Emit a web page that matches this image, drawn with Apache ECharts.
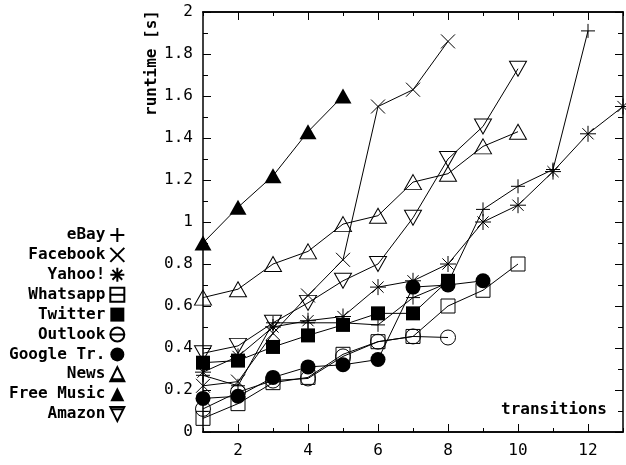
<!DOCTYPE html>
<html>
<head>
<meta charset="utf-8">
<script src="https://cdn.jsdelivr.net/npm/echarts@6/dist/echarts.min.js"></script>
<style>
  html, body { margin: 0; padding: 0; background: #fff; }
  #chart { width: 626px; height: 465px; }
</style>
</head>
<body>
<div id="chart"></div>
<script>
// runtime per number of transitions
const ebay = [0.27, 0.22, 0.52, 0.52, 0.52, 0.51, 0.64, 0.71, 1.06, 1.17, 1.25, 1.91];
const facebook = [0.22, 0.24, 0.47, 0.65, 0.82, 1.55, 1.63, 1.86];
const yahoo = [0.285, 0.36, 0.50, 0.53, 0.55, 0.69, 0.72, 0.80, 1.00, 1.08, 1.24, 1.42, 1.55];
const whatsapp = [0.065, 0.135, 0.235, 0.26, 0.37, 0.43, 0.455, 0.60, 0.675, 0.80];
const twitter = [0.33, 0.34, 0.405, 0.46, 0.51, 0.565, 0.565, 0.72];
const outlook = [0.11, 0.19, 0.245, 0.255, 0.36, 0.43, 0.455, 0.45];
const googleTr = [0.16, 0.17, 0.26, 0.31, 0.32, 0.345, 0.69, 0.70, 0.72];
const news = [0.64, 0.68, 0.80, 0.86, 0.99, 1.03, 1.19, 1.23, 1.36, 1.43];
const freeMusic = [0.90, 1.07, 1.22, 1.43, 1.60];
const amazon = [0.375, 0.41, 0.52, 0.615, 0.72, 0.80, 1.02, 1.30, 1.455, 1.73];

const names = ["eBay", "Facebook", "Yahoo!", "Whatsapp", "Twitter", "Outlook", "Google Tr.", "News", "Free Music", "Amazon"];
const values = [ebay, facebook, yahoo, whatsapp, twitter, outlook, googleTr, news, freeMusic, amazon];
const xLabels = [2, 4, 6, 8, 10, 12];
const xMinorTicks = [1, 3, 5, 7, 9, 11, 13];

const FONT = "DejaVu Sans Mono";
const EMPTY = "rgba(0,0,0,0)";

// marker per series: [symbol, size, filled, rotate, legend icon]
const marks = [
  ["path://M0 5H10M5 0V10", 14, false, 0, "path://M0 5H10M5 0V10"],
  ["path://M0 0L10 10M10 0L0 10", 14, false, 0, "path://M0 0L10 10M10 0L0 10"],
  ["path://M0 5H10M5 0V10M1.5 1.5L8.5 8.5M8.5 1.5L1.5 8.5", 16, false, 0, "path://M0 5H10M5 0V10M1.5 1.5L8.5 8.5M8.5 1.5L1.5 8.5"],
  ["rect", 14, false, 0, "path://M0 0H10V10H0ZM0 5H10"],
  ["rect", 14, true, 0, "rect"],
  ["circle", 15, false, 0, "path://M10 5A5 5 0 1 1 0 5A5 5 0 1 1 10 5ZM0 5H10"],
  ["circle", 15, true, 0, "circle"],
  ["triangle", [17, 15], false, 0, "path://M5 0L10 10H0ZM1 8.5H9"],
  ["triangle", [17, 15], true, 0, "triangle"],
  ["triangle", [17, 15], false, 180, "path://M0 0H10L5 10ZM1 1.5H9"]
];

let myChart = echarts.init(document.getElementById("chart"));

let series = names.map(function (name, i) {
  let m = marks[i];
  return {
    name: name,
    type: "line",
    data: values[i].map(function (v, j) { return [j + 1, v]; }),
    symbol: m[0],
    symbolSize: m[1],
    symbolRotate: m[3],
    showAllSymbol: true,
    lineStyle: { color: "#000", width: 1 },
    itemStyle: { color: m[2] ? "#000" : EMPTY, borderColor: "#000", borderWidth: m[2] ? 0 : 1 },
    emphasis: { disabled: true },
    z: 2 + i
  };
});

let tickAxis = function (pos, extra) {
  return Object.assign({
    type: "value", position: pos, min: 1, max: 13, interval: 1,
    axisLine: { lineStyle: { color: "#000", width: 1.5 } },
    axisTick: { inside: true, length: 4, lineStyle: { color: "#000" } },
    axisLabel: { show: false },
    splitLine: { show: false }
  }, extra || {});
};

myChart.setOption({
  animation: false,
  grid: { left: 203, right: 3, top: 12, bottom: 33 },
  legend: {
    orient: "vertical",
    left: 4, top: 222,
    align: "right",
    itemWidth: 14, itemHeight: 14, itemGap: 3.9,
    selectedMode: false,
    textStyle: { fontFamily: FONT, fontSize: 16, fontWeight: "bold", color: "#000", lineHeight: 14 },
    data: names.map(function (n, i) { return { name: n, icon: marks[i][4] }; })
  },
  xAxis: [
    tickAxis("bottom", {
      axisTick: { inside: true, length: 8, lineStyle: { color: "#000" }, customValues: xLabels },
      axisLabel: { show: true, customValues: xLabels, fontFamily: FONT, fontSize: 16, color: "#000", margin: 11 }
    }),
    tickAxis("bottom", { axisTick: { inside: true, length: 4, lineStyle: { color: "#000" }, customValues: xMinorTicks } }),
    tickAxis("top", { axisTick: { inside: true, length: 8, lineStyle: { color: "#000" }, customValues: xLabels } }),
    tickAxis("top", { axisTick: { inside: true, length: 4, lineStyle: { color: "#000" }, customValues: xMinorTicks } })
  ],
  yAxis: [
    {
      type: "value", position: "left", min: 0, max: 2, interval: 0.2,
      axisLine: { show: true, lineStyle: { color: "#000", width: 1.5 } },
      axisTick: { show: true, inside: true, length: 8, lineStyle: { color: "#000" } },
      minorTick: { show: true, splitNumber: 2, length: 5, lineStyle: { color: "#000" } },
      axisLabel: { fontFamily: FONT, fontSize: 16, color: "#000", margin: 10 },
      splitLine: { show: false }
    },
    {
      type: "value", position: "right", min: 0, max: 2, interval: 0.2,
      axisLine: { show: true, lineStyle: { color: "#000", width: 1.5 } },
      axisTick: { show: true, inside: true, length: 8, lineStyle: { color: "#000" } },
      minorTick: { show: true, splitNumber: 2, length: 5, lineStyle: { color: "#000" } },
      axisLabel: { show: false },
      splitLine: { show: false }
    }
  ],
  graphic: [
    {
      type: "text", left: 144, top: 10, rotation: Math.PI / 2,
      style: { text: "runtime [s]", font: "bold 16px '" + FONT + "'", fill: "#000" }
    },
    {
      type: "text", right: 19, top: 402,
      style: { text: "transitions", font: "bold 16px '" + FONT + "'", fill: "#000" }
    }
  ],
  series: series
});
</script>
</body>
</html>
